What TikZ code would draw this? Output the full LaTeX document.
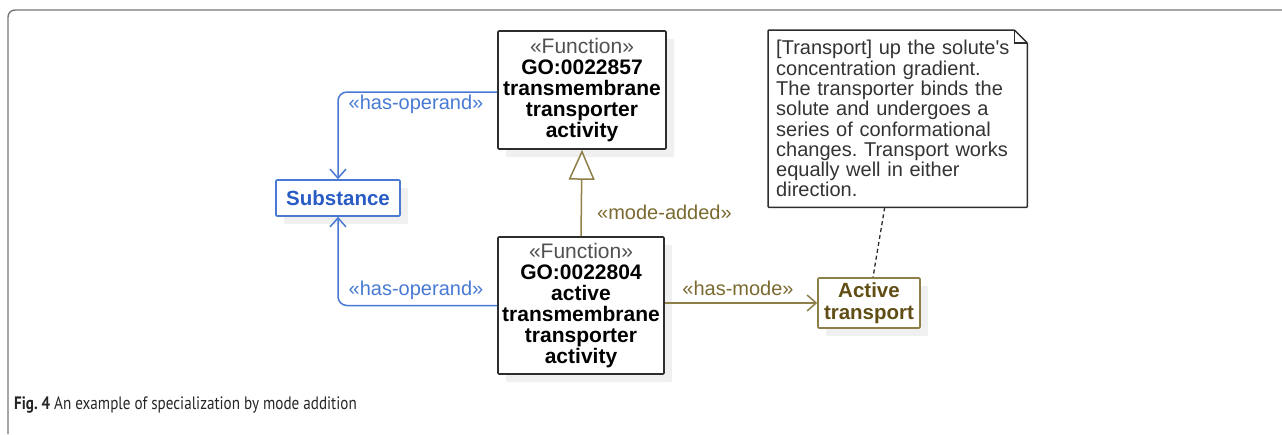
\documentclass[tikz,border=0pt]{standalone}
\usepackage{fontspec}
\setmainfont{Liberation Sans}
\newfontfamily\nfont{Liberation Sans}
\newfontfamily\capfont{PT Sans}
\usetikzlibrary{arrows.meta,shadows,calc}
\definecolor{blueL}{RGB}{72,122,212}
\definecolor{blueT}{RGB}{40,92,196}
\definecolor{oliveL}{RGB}{142,126,72}
\definecolor{oliveT}{RGB}{122,106,48}
\definecolor{oliveD}{RGB}{96,78,20}
\definecolor{boxC}{RGB}{45,45,45}
\definecolor{stereo}{RGB}{80,80,80}
\definecolor{frameC}{RGB}{120,120,120}
\definecolor{shadowC}{RGB}{240,240,240}
\frenchspacing
\begin{document}
\begin{tikzpicture}[x=1pt,y=-1pt,
  shad/.style={drop shadow={shadow xshift=8pt,shadow yshift=-8pt,fill=shadowC,opacity=1}},
  umlbox/.style={draw=boxC,line width=1.6pt,rounded corners=1pt,fill=white,align=center,
    font=\fontsize{21}{21}\selectfont,inner sep=2pt,shad},
  subbox/.style={umlbox,draw=blueL,text=blueT,font=\fontsize{20.5}{21}\selectfont\bfseries},
  modebox/.style={umlbox,draw=oliveL,text=oliveD,font=\fontsize{20.5}{22}\selectfont\bfseries},
  notebox/.style={align=left,font=\nfont\fontsize{20}{20.3}\selectfont,text=black!80,inner xsep=8pt,inner ysep=4pt},
  bl/.style={draw=blueL,line width=1.5pt,rounded corners=9pt},
  ol/.style={draw=oliveL,line width=1.5pt},
  blab/.style={text=blueL,font=\fontsize{20}{21}\selectfont,inner sep=1pt},
  olab/.style={text=oliveT,font=\fontsize{20}{21}\selectfont,inner sep=1pt},
  barb/.style={-{Straight Barb[length=9pt,width=16pt,line width=1.5pt]}}
]
\useasboundingbox (0,0) rectangle (1282,434);
% frame
\draw[frameC,line width=1.4pt,rounded corners=7pt] (8,434) -- (8,10) -- (1282,10);

% nodes
\node[umlbox,minimum width=168pt,minimum height=118pt] (F1) at (582,90)
  {{\color{stereo}«Function»}\\\textbf{GO:0022857}\\\textbf{transmembrane}\\\textbf{transporter}\\\textbf{activity}};
\node[umlbox,minimum width=166pt,minimum height=137pt] (F2) at (581,305.5)
  {{\color{stereo}«Function»}\\\textbf{GO:0022804}\\\textbf{active}\\\textbf{transmembrane}\\\textbf{transporter}\\\textbf{activity}};
\node[subbox,minimum width=124pt,minimum height=36pt] (Sub) at (338,198) {Substance};
\node[modebox,minimum width=102pt,minimum height=50pt] (AT) at (869,303) {Active\\transport};
\node[notebox,anchor=north west,minimum width=259pt,minimum height=177pt,text width=243pt] (N) at (768,30)
  {[Transport] up the solute's\\concentration gradient.\\The transporter binds the\\solute and undergoes a\\series of conformational\\changes. Transport works\\equally well in either\\direction.};
\draw[boxC,line width=1.5pt,line join=round,rounded corners=1pt]
  (N.north west) -- ($(N.north east)+(-13,0)$) -- ($(N.north east)+(0,13)$) -- (N.south east) -- (N.south west) -- cycle;
\draw[boxC,line width=1.2pt] ($(N.north east)+(-13,0)$) -- ($(N.north east)+(-13,13)$) -- ($(N.north east)+(0,13)$);

% connectors
\draw[bl,barb] ([yshift=-2pt]F1.west) -| (Sub.north);
\draw[bl,barb] (F2.west) -| (Sub.south);
\node[blab] (l1) at (416,104) {«has-operand»};
\node[blab] (l2) at (416,290) {«has-operand»};

\draw[ol,-{Triangle[length=30pt,width=26pt,fill=white,line width=1.5pt]}] (F2.north) -- (F1.south);
\node[olab,anchor=west] (l3) at (596,212) {«mode-added»};

\draw[ol,barb] (F2.east |- AT.west) -- (AT.west);
\node[olab] (l4) at (738,288) {«has-mode»};

\draw[boxC,line width=1.3pt,dash pattern=on 4pt off 3pt] ($(N.south)+(-13,0)$) -- ($(AT.north)+(4,0)$);

% caption
\node[anchor=west,inner sep=0pt,text=black!85] (cap) at (14,405)
  {\scalebox{0.84}[1]{\capfont\fontsize{18}{20}\selectfont\textbf{Fig. 4} An example of specialization by mode addition}};
\end{tikzpicture}
\end{document}
